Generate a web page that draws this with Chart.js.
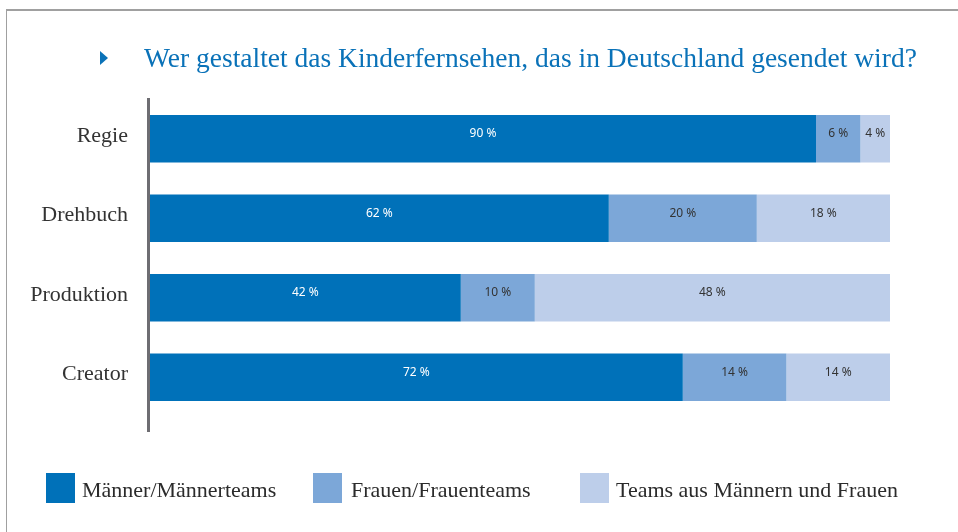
<!DOCTYPE html>
<html>
<head>
<meta charset="utf-8">
<script src="https://cdn.jsdelivr.net/npm/chart.js@4/dist/chart.umd.min.js"></script>
<style>
  html, body { margin: 0; padding: 0; background: #fff; }
  #wrap { position: relative; width: 958px; height: 532px; }
</style>
</head>
<body>
<div id="wrap"><canvas id="kinderChart" width="958" height="532"></canvas></div>
<script>
// data
var categories = ['Regie', 'Drehbuch', 'Produktion', 'Creator'];
var seriesNames = ['Männer/Männerteams', 'Frauen/Frauenteams', 'Teams aus Männern und Frauen'];
var maenner = [90, 62, 42, 72];
var frauen = [6, 20, 10, 14];
var gemischt = [4, 18, 48, 14];
var titleText = 'Wer gestaltet das Kinderfernsehen, das in Deutschland gesendet wird?';

var colors = ['#0071b9', '#7ca7d8', '#bdceea'];
var serif = '"Liberation Serif", "Times New Roman", serif';

// frame, title, axis line and legend
var decorPlugin = {
    id: 'decor',
    beforeDraw: function(chart) {
        var ctx = chart.ctx;
        ctx.save();
        ctx.strokeStyle = '#a0a0a0';
        ctx.lineWidth = 2;
        ctx.beginPath();
        ctx.moveTo(6, 10);
        ctx.lineTo(958, 10);
        ctx.stroke();
        ctx.lineWidth = 1;
        ctx.beginPath();
        ctx.moveTo(6.5, 10);
        ctx.lineTo(6.5, 532);
        ctx.stroke();

        // title marker
        ctx.fillStyle = '#0a72b8';
        ctx.beginPath();
        ctx.moveTo(100, 51);
        ctx.lineTo(108, 58);
        ctx.lineTo(100, 65);
        ctx.closePath();
        ctx.fill();

        ctx.font = '27.5px ' + serif;
        ctx.textBaseline = 'alphabetic';
        ctx.textAlign = 'left';
        ctx.fillText(titleText, 144, 67);
        ctx.restore();
    },
    afterDraw: function(chart) {
        var ctx = chart.ctx;
        ctx.save();
        // axis line
        ctx.fillStyle = '#6e6d72';
        ctx.fillRect(147, 98, 3, 334);

        // legend
        var boxX = [46, 313, 580];
        var textX = [82, 351, 616];
        ctx.font = '22px ' + serif;
        ctx.textBaseline = 'alphabetic';
        ctx.textAlign = 'left';
        for (var i = 0; i < seriesNames.length; i++) {
            ctx.fillStyle = colors[i];
            ctx.fillRect(boxX[i], 473, 29, 30);
            ctx.fillStyle = '#2b2b2b';
            ctx.fillText(seriesNames[i], textX[i], 497);
        }
        ctx.restore();
    }
};

// percent labels in the middle of each segment
var valueLabels = {
    id: 'valueLabels',
    afterDatasetsDraw: function(chart) {
        var ctx = chart.ctx;
        ctx.save();
        ctx.font = '12px "Noto Sans", sans-serif';
        ctx.textAlign = 'center';
        ctx.textBaseline = 'middle';
        chart.data.datasets.forEach(function(ds, di) {
            var meta = chart.getDatasetMeta(di);
            meta.data.forEach(function(bar, i) {
                var cx = (bar.x + bar.base) / 2;
                ctx.fillStyle = di === 0 ? '#ffffff' : '#333333';
                ctx.fillText(ds.data[i] + ' %', cx, bar.y - 5);
            });
        });
        ctx.restore();
    }
};

var ctx = document.getElementById('kinderChart').getContext('2d');

var kinderChart = new Chart(ctx, {
    type: 'bar',
    data: {
        labels: categories,
        datasets: [
            { label: seriesNames[0], data: maenner, backgroundColor: colors[0] },
            { label: seriesNames[1], data: frauen, backgroundColor: colors[1] },
            { label: seriesNames[2], data: gemischt, backgroundColor: colors[2] }
        ]
    },
    options: {
        indexAxis: 'y',
        responsive: false,
        animation: false,
        layout: {
            padding: { left: 0, right: 68, top: 99, bottom: 115 }
        },
        datasets: {
            bar: {
                categoryPercentage: 1,
                barPercentage: 0.6,
                borderWidth: 0
            }
        },
        scales: {
            x: {
                stacked: true,
                display: false,
                min: 0,
                max: 100
            },
            y: {
                stacked: true,
                grid: { display: false, drawTicks: false },
                border: { display: false },
                ticks: {
                    color: '#333',
                    padding: 22,
                    labelOffset: -3,
                    font: { family: serif, size: 22 }
                },
                afterFit: function(axis) {
                    axis.width = 150;
                }
            }
        },
        plugins: {
            legend: { display: false },
            title: { display: false },
            tooltip: { enabled: false }
        }
    },
    plugins: [decorPlugin, valueLabels]
});
</script>
</body>
</html>
